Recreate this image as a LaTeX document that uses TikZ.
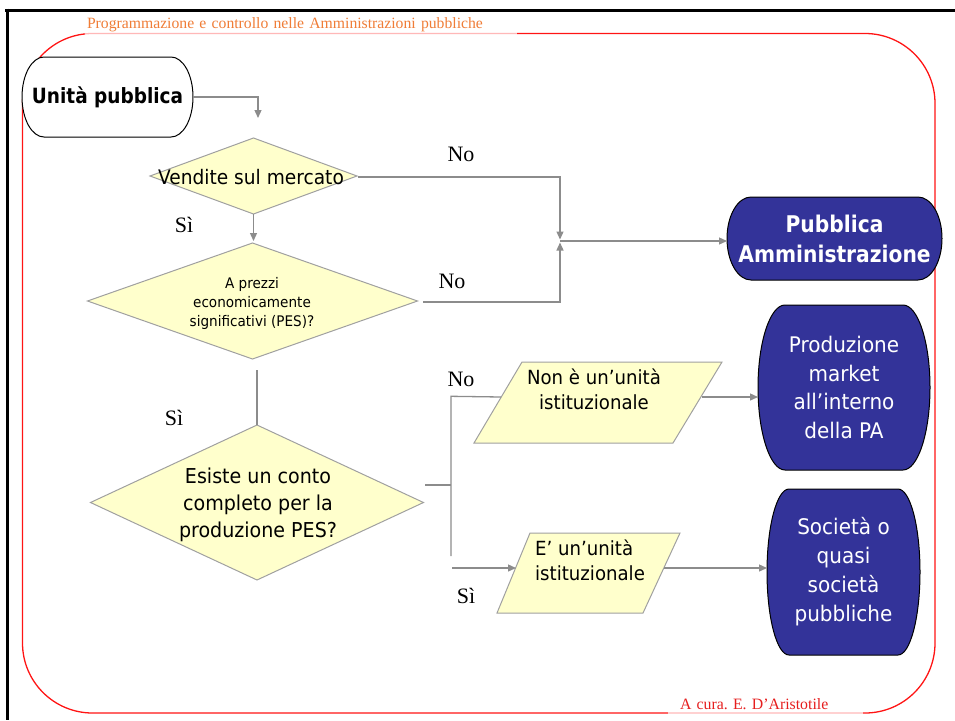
\documentclass[tikz,border=0pt]{standalone}
\usepackage{fontspec}
\setmainfont{Liberation Serif}
\newfontfamily\regf{DejaVu Sans}[FakeStretch=0.93]
\newfontfamily\boldf{DejaVu Sans}[FakeStretch=0.88]
\usetikzlibrary{arrows.meta,shapes.geometric,calc}
\pgfdeclarelayer{back}
\pgfdeclarelayer{bg}
\pgfsetlayers{back,bg,main}
\definecolor{navy}{RGB}{51,51,153}
\definecolor{pale}{RGB}{255,255,204}
\definecolor{edgegray}{RGB}{160,160,160}
\definecolor{conngray}{RGB}{140,140,140}
\definecolor{hdrcol}{RGB}{240,125,55}
\definecolor{ftrcol}{RGB}{230,30,30}
\definecolor{bordercol}{RGB}{255,20,20}
\newcommand{\termshape}[4]{%
  \begin{pgfonlayer}{bg}
  \path[#1] ([xshift=#3pt]#2.north west) -- ([xshift=-#3pt]#2.north east)
    arc[start angle=90,end angle=-90,x radius=#3pt,y radius=#4pt]
    -- ([xshift=#3pt]#2.south west)
    arc[start angle=270,end angle=90,x radius=#3pt,y radius=#4pt] -- cycle;
  \end{pgfonlayer}}
\tikzset{
  connline/.style={draw=conngray, line width=1.3pt},
  arr/.style={connline, -{Triangle[length=8pt,width=7pt]}},
  dia/.style={shape=diamond, draw=edgegray, fill=pale, line width=1pt, inner sep=0pt, outer sep=0pt},
  termbox/.style={inner sep=0pt, outer sep=0pt, align=center},
  paraline/.style={draw=edgegray, fill=pale, line width=1pt},
  lbl/.style={font=\fontsize{22}{26}\selectfont, inner sep=0pt},
  termline/.style={draw=black, line width=1pt},
}
\frenchspacing
\begin{document}
\begin{tikzpicture}[x=1pt,y=1pt]
\useasboundingbox (0,0) rectangle (955,-720);
% frame
\draw[line width=3pt] (5,-10) -- (955,-10);
\draw[line width=3pt] (7,-8.5) -- (7,-720);
% red border
\begin{pgfonlayer}{back}
\draw[bordercol, line width=1.3pt, rounded corners=70pt] (22.5,-33.5) rectangle (935,-713);
\end{pgfonlayer}
\node[fill=white, fill opacity=0.7, text opacity=1, text=hdrcol, text width=428pt, inner xsep=2pt, inner ysep=0pt, minimum height=22.5pt, align=left, font=\frenchspacing\fontsize{15.7}{19}\selectfont] (hdr) at (301,-24.25) {Programmazione e controllo nelle Amministrazioni pubbliche};
\node[fill=white, fill opacity=0.7, text opacity=1, text=ftrcol, text width=171pt, inner xsep=12pt, inner ysep=0pt, minimum height=20pt, align=left, font=\frenchspacing\fontsize{15.8}{19}\selectfont] (ftr) at (765.5,-704.5) {A cura. E. D’Aristotile};

% terminators
\node[termbox, minimum width=171pt, minimum height=80pt, font=\boldf\bfseries\fontsize{21}{25}\selectfont] (up) at (107.5,-97) {Unità pubblica};
\termshape{termline, fill=white}{up}{22}{40}
\node[termbox, minimum width=215pt, minimum height=83pt, text=white, font=\boldf\bfseries\fontsize{23}{30}\selectfont] (pa) at (834.5,-238.5) {Pubblica\\Amministrazione};
\termshape{termline, fill=navy}{pa}{24}{41.5}
\node[termbox, minimum width=172pt, minimum height=165pt, text=white, font=\regf\fontsize{21.5}{28.5}\selectfont] (prod) at (844,-387.5) {Produzione\\market\\all’interno\\della PA};
\termshape{termline, fill=navy}{prod}{27}{82.5}
\node[termbox, minimum width=153pt, minimum height=166pt, text=white, font=\regf\fontsize{21.5}{29}\selectfont] (soc) at (843.5,-572) {Società o\\quasi\\società\\pubbliche};
\termshape{termline, fill=navy}{soc}{22}{83}

% diamonds
\node[dia, minimum width=207pt, minimum height=76pt] (d1) at (253.5,-176) {};
\node[inner sep=0pt, font=\regf\fontsize{20}{24}\selectfont] (d1t) at (251,-177) {Vendite sul mercato};
\node[dia, minimum width=330pt, minimum height=116pt] (d2) at (252.5,-301) {};
\node[inner sep=0pt, align=center, font=\regf\fontsize{14.6}{19}\selectfont] (d2t) at (252,-303) {A prezzi\\economicamente\\significativi (PES)?};
\node[dia, minimum width=333pt, minimum height=155pt] (d3) at (257,-502.5) {};
\node[inner sep=0pt, align=center, font=\regf\fontsize{20.5}{27}\selectfont] (d3t) at (258,-505) {Esiste un conto\\completo per la\\produzione PES?};

% parallelograms
\coordinate (p1tl) at (522,-362);
\coordinate (p1tr) at (722,-362);
\coordinate (p1br) at (673,-443);
\coordinate (p1bl) at (474,-443);
\draw[paraline] (p1tl) -- (p1tr) -- (p1br) -- (p1bl) -- cycle;
\node[inner sep=0pt, align=center, font=\regf\fontsize{19.5}{25}\selectfont] (p1t) at (594,-389.5) {Non è un’unità\\istituzionale};
\coordinate (p2tl) at (530,-533);
\coordinate (p2tr) at (680,-533);
\coordinate (p2br) at (643,-613);
\coordinate (p2bl) at (497,-613);
\draw[paraline] (p2tl) -- (p2tr) -- (p2br) -- (p2bl) -- cycle;
\node[inner sep=0pt, anchor=west, align=left, font=\regf\fontsize{19.5}{25}\selectfont] (p2t) at (535,-560.5) {E’ un’unità\\istituzionale};
\coordinate (p1in) at (501,-397);
\coordinate (p1out) at (702,-397);
\coordinate (p2in) at (516,-568);
\coordinate (p2out) at (664,-568);

% connectors
\coordinate (c1) at (258,-118);
\draw[arr] (up.east) -| (c1);
\coordinate (c2) at (253.5,-241);
\draw[arr] (d1.south) -- (c2);
\coordinate (jtop) at (560,-239.5);
\coordinate (jbot) at (560,-242.5);
\coordinate (jn) at (560,-241);
\coordinate (s1) at (358,-177);
\coordinate (s2) at (423,-302);
\draw[arr] (s1) -- (s1 -| jtop) -- (jtop);
\draw[arr] (s2) -- (s2 -| jbot) -- (jbot);
\draw[arr] (jn) -- (jn -| pa.west);
\draw[connline] (d3.north) -- ++(0,55);
\coordinate (h0) at (425,-485);
\coordinate (v1) at (451,-396.3);
\coordinate (v2) at (451,-556);
\coordinate (b0) at (452,-568);
\draw[connline] (h0) -- (h0 -| v1);
\draw[connline] (v2) -- (v1) -- (p1in);
\draw[arr] (b0) -- (p2in);
\draw[arr] (p1out) -- (p1out -| prod.west);
\draw[arr] (p2out) -- (p2out -| soc.west);

% labels
\node[lbl] (no1) at (461,-154) {No};
\node[lbl] (si1) at (184,-225) {Sì};
\node[lbl] (no2) at (452,-281) {No};
\node[lbl] (si2) at (174,-418) {Sì};
\node[lbl] (no3) at (461,-379) {No};
\node[lbl] (si3) at (466,-596) {Sì};
\end{tikzpicture}
\end{document}
